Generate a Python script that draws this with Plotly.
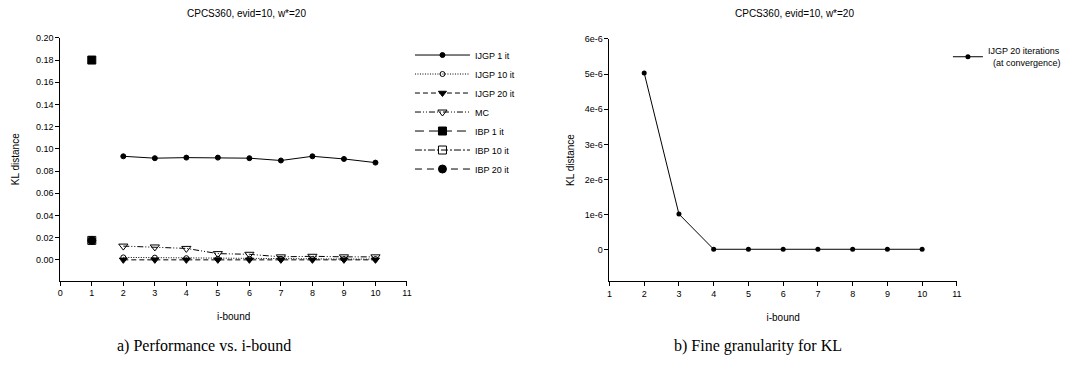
import plotly.graph_objects as go

# ---- data ----
ibound = [2, 3, 4, 5, 6, 7, 8, 9, 10]
ijgp1 = [0.0933, 0.0916, 0.0921, 0.0921, 0.0916, 0.0895, 0.0933, 0.0909, 0.0876]
ijgp10 = [0.0022, 0.0020, 0.0015, 0.0010, 0.0010, 0.0008, 0.0008, 0.0007, 0.0007]
ijgp20 = [0.0000, 0.0000, 0.0000, 0.0000, 0.0000, 0.0000, 0.0000, 0.0000, 0.0000]
mc = [0.0124, 0.0116, 0.0103, 0.0056, 0.0050, 0.0027, 0.0032, 0.0027, 0.0027]
ibp_x = [1]
ibp1 = [0.180]
ibp10 = [0.0175]
ibp20 = [0.0175]

ijgp20_conv = [5.03e-6, 1.02e-6, 0.02e-6, 0.02e-6, 0.02e-6, 0.02e-6, 0.02e-6, 0.02e-6, 0.02e-6]

title_txt = "CPCS360, evid=10, w*=20"
left_yticks = [0.00, 0.02, 0.04, 0.06, 0.08, 0.10, 0.12, 0.14, 0.16, 0.18, 0.20]
right_yticks = [0, 1e-6, 2e-6, 3e-6, 4e-6, 5e-6, 6e-6]
right_yticklabels = ["0", "1e-6", "2e-6", "3e-6", "4e-6", "5e-6", "6e-6"]

W, H = 1078, 374
FONT = "Liberation Sans, Arial, sans-serif"
SERIF = "Liberation Serif, Times New Roman, serif"

fig = go.Figure()

def add(name, x, y, dash, symbol, size, mcolor="black", lw=1):
    fig.add_trace(go.Scatter(
        x=x, y=y, name=name, mode="lines+markers",
        line=dict(color="black", width=lw, dash=dash),
        marker=dict(symbol=symbol, size=size, color=mcolor,
                    line=dict(color="black", width=1)),
        xaxis="x", yaxis="y", legend="legend"))

add("IJGP 1 it", ibound, ijgp1, "solid", "circle", 5)
add("IJGP 10 it", ibound, ijgp10, "1px,1.5px", "circle-open", 5)
add("IJGP 20 it", ibound, ijgp20, "5px,3px", "triangle-down", 7)
add("MC", ibound, mc, "6px,2px,1px,2px,1px,2px", "triangle-down-open", 8)
add("IBP 1 it", ibp_x, ibp1, "9px,5px", "square", 8)
add("IBP 10 it", ibp_x, ibp10, "7px,2px,2px,2px", "square-open", 8)
add("IBP 20 it", ibp_x, ibp20, "7px,5px", "circle", 8)

fig.add_trace(go.Scatter(
    x=ibound, y=ijgp20_conv, name="IJGP 20 iterations<br>  (at convergence)",
    mode="lines+markers", line=dict(color="black", width=1),
    marker=dict(symbol="circle", size=5, color="black"),
    xaxis="x2", yaxis="y2", legend="legend2"))

def px_x(p):
    return p / W

def px_y(p):
    return 1 - p / H

axis_common = dict(showline=True, linecolor="black", linewidth=1, ticks="outside",
                   ticklen=4, tickwidth=1, tickcolor="black", showgrid=False,
                   zeroline=False, mirror=False,
                   tickfont=dict(family=FONT, size=9, color="black"))

def ann(text, x, y, family, size):
    return dict(text=text, x=px_x(x), y=px_y(y), xref="paper", yref="paper",
                xanchor="center", yanchor="middle", showarrow=False,
                font=dict(family=family, size=size, color="black"))

fig.update_layout(
    width=W, height=H, margin=dict(l=0, r=0, t=0, b=0),
    paper_bgcolor="white", plot_bgcolor="white",
    font=dict(family=FONT, color="black", size=10),
    xaxis=dict(domain=[px_x(57.7), px_x(407)], range=[0, 11], tickvals=list(range(0, 12)),
               anchor="y", title=dict(text="i-bound", font=dict(size=10), standoff=15),
               **axis_common),
    yaxis=dict(domain=[px_y(279.3), px_y(33.3)], range=[-0.01867, 0.2],
               tickvals=left_yticks, tickformat=".2f", anchor="x",
               title=dict(text="KL distance", font=dict(size=10), standoff=14),
               **axis_common),
    xaxis2=dict(domain=[px_x(611), px_x(961)], range=[1, 11], tickvals=list(range(1, 12)),
                anchor="y2", title=dict(text="i-bound", font=dict(size=10), standoff=15),
                **axis_common),
    yaxis2=dict(domain=[px_y(280), px_y(34.3)], range=[-0.889e-6, 6e-6],
                tickvals=right_yticks, ticktext=right_yticklabels, anchor="x2",
                title=dict(text="KL distance", font=dict(size=10), standoff=8),
                **axis_common),
    legend=dict(x=px_x(410), y=px_y(36), xanchor="left", yanchor="top",
                font=dict(family=FONT, size=9, color="black"), itemwidth=55,
                bgcolor="rgba(0,0,0,0)", tracegroupgap=0),
    legend2=dict(x=px_x(952), y=px_y(34), xanchor="left", yanchor="top",
                 font=dict(family=FONT, size=9, color="black"), itemwidth=30,
                 bgcolor="rgba(0,0,0,0)"),
    showlegend=True,
    annotations=[
        ann(title_txt, 245, 9, FONT, 10),
        ann(title_txt, 797, 9, FONT, 10),
        ann("a) Performance vs. i-bound", 202, 346, SERIF, 16),
        ann("b) Fine granularity for KL", 761, 346, SERIF, 16),
    ],
)

fig.write_html("out.html")
